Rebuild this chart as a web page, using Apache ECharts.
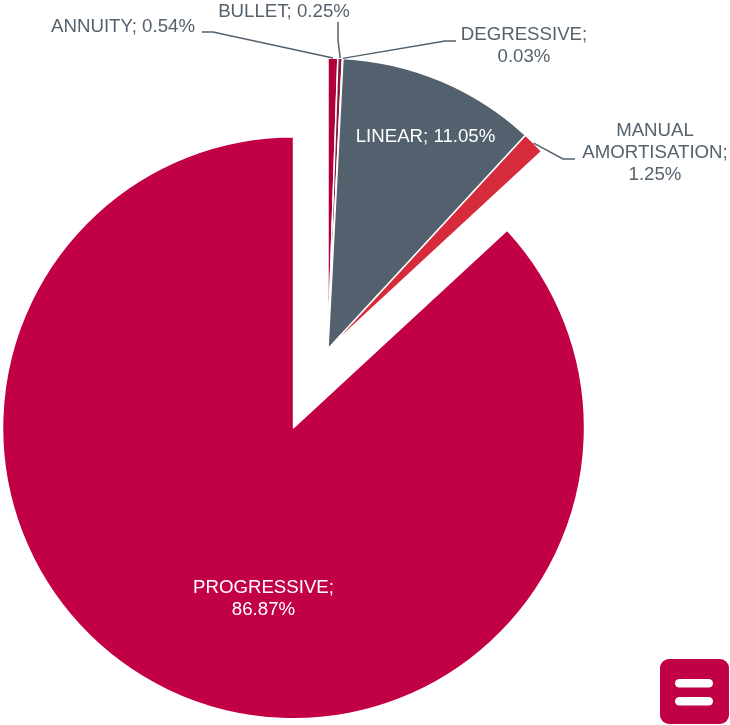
<!DOCTYPE html>
<html>
<head>
<meta charset="utf-8">
<script src="https://cdn.jsdelivr.net/npm/echarts@6/dist/echarts.min.js"></script>
<style>
  html, body { margin: 0; padding: 0; background: #ffffff; }
  #chart { width: 730px; height: 725px; }
</style>
</head>
<body>
<div id="chart"></div>
<script>
// ---- Data ----
const categories = ['ANNUITY', 'BULLET', 'DEGRESSIVE', 'LINEAR', 'MANUAL AMORTISATION', 'PROGRESSIVE'];
const shares = [0.54, 0.25, 0.03, 11.05, 1.25, 86.87];
const explodedCategory = 'PROGRESSIVE';

// ---- Styling (not data) ----
const sliceColors = ['#B0003C', '#8B1A3E', '#EFD3DC', '#52616D', '#D52B3A', '#C20045'];
const labelStyle = ['outside', 'outside', 'outside', 'inside', 'outside', 'inside'];
const labelWrap = ['inline', 'inline', 'wrap', 'inline', 'wrapAll', 'wrap'];
// label anchor positions (text placement only)
const labelPlace = [
  { x: 195, y: 27, align: 'right', bend: [[213, 32], [202, 32]] },
  { x: 284, y: 12, align: 'center', bend: [[338, 40], [338, 22]] },
  { x: 524, y: 46, align: 'center', bend: [[445, 41], [456, 41]] },
  { x: 425.5, y: 137, align: 'center' },
  { x: 655, y: 153, align: 'center', bend: [[563, 159], [575, 159]] },
  { x: 263.5, y: 599, align: 'center' }
];
const textColor = '#55626E';
const pieCenter = [328, 349];
const pieRadius = 291;

function labelText(i) {
  const v = shares[i].toFixed(2) + '%';
  const n = categories[i];
  if (labelWrap[i] === 'wrap') return n + ';\n' + v;
  if (labelWrap[i] === 'wrapAll') return n.replace(/ /g, '\n') + ';\n' + v;
  return n + '; ' + v;
}

// Series 1: the slices (progressive exploded via selection)
const sliceData = categories.map((name, i) => ({
  name: name,
  value: shares[i],
  selected: name === explodedCategory,
  itemStyle: { color: sliceColors[i] }
}));

// Series 2: invisible copy carrying the labels
const labelData = categories.map((name, i) => ({
  name: name,
  value: shares[i],
  itemStyle: { color: 'rgba(0,0,0,0)', borderWidth: 0 },
  label: {
    show: true,
    position: labelStyle[i],
    color: labelStyle[i] === 'inside' ? '#ffffff' : textColor,
    formatter: labelText(i)
  },
  labelLine: { show: labelStyle[i] === 'outside' }
}));

const chart = echarts.init(document.getElementById('chart'), null, { renderer: 'canvas' });
chart.setOption({
  animation: false,
  backgroundColor: '#ffffff',
  series: [{
    type: 'pie',
    center: pieCenter,
    radius: pieRadius,
    startAngle: 90,
    clockwise: true,
    selectedMode: 'single',
    selectedOffset: 86,
    silent: true,
    itemStyle: { borderColor: '#ffffff', borderWidth: 1.5 },
    label: { show: false },
    labelLine: { show: false },
    emphasis: { disabled: true },
    data: sliceData
  }, {
    type: 'pie',
    center: pieCenter,
    radius: pieRadius,
    startAngle: 90,
    clockwise: true,
    selectedMode: false,
    avoidLabelOverlap: false,
    silent: true,
    z: 3,
    label: {
      fontFamily: 'Liberation Sans, Arial, sans-serif',
      fontSize: 18.67,
      lineHeight: 22,
      align: 'center'
    },
    labelLine: {
      lineStyle: { color: '#52616D', width: 1.5 },
      length: 20,
      length2: 10
    },
    emphasis: { disabled: true },
    labelLayout: function (params) {
      const p = labelPlace[params.dataIndex];
      const out = { x: p.x, y: p.y, align: p.align, verticalAlign: 'middle' };
      if (p.bend && params.labelLinePoints) {
        out.labelLinePoints = [params.labelLinePoints[0], p.bend[0], p.bend[1]];
      }
      return out;
    },
    data: labelData
  }],
  graphic: [
    { type: 'rect', shape: { x: 660, y: 659, width: 69, height: 65, r: 9 }, style: { fill: '#C20045' } },
    { type: 'rect', shape: { x: 675, y: 679, width: 38, height: 8.5, r: 4.25 }, style: { fill: '#ffffff' } },
    { type: 'rect', shape: { x: 675, y: 697, width: 38, height: 8.5, r: 4.25 }, style: { fill: '#ffffff' } }
  ]
});
</script>
</body>
</html>
